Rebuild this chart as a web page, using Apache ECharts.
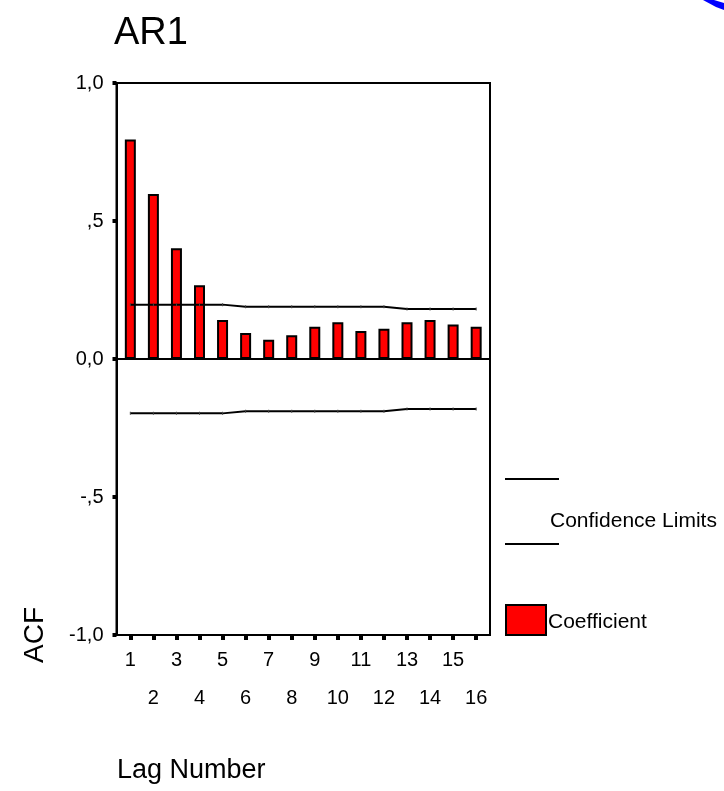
<!DOCTYPE html>
<html>
<head>
<meta charset="utf-8">
<title>AR1 ACF</title>
<script src="https://cdn.jsdelivr.net/npm/echarts@6/dist/echarts.min.js"></script>
<style>
  html, body { margin: 0; padding: 0; background: #fff; }
  #chart { width: 724px; height: 791px; }
</style>
</head>
<body>
<div id="chart"></div>
<script>
// Autocorrelation of the AR1 series, lags 1..16
const lags = [1, 2, 3, 4, 5, 6, 7, 8, 9, 10, 11, 12, 13, 14, 15, 16];
const coefficient = [0.795, 0.598, 0.401, 0.267, 0.141, 0.094, 0.070, 0.086,
                     0.117, 0.133, 0.101, 0.110, 0.133, 0.141, 0.125, 0.117];
const upperLimit = [0.197, 0.197, 0.197, 0.197, 0.197, 0.189, 0.189, 0.189,
                    0.189, 0.189, 0.189, 0.189, 0.181, 0.181, 0.181, 0.181];
const lowerLimit = [-0.197, -0.197, -0.197, -0.197, -0.197, -0.189, -0.189, -0.189,
                    -0.189, -0.189, -0.189, -0.189, -0.181, -0.181, -0.181, -0.181];
const yTickLabels = { '1': '1,0', '0.5': ',5', '0': '0,0', '-0.5': '-,5', '-1': '-1,0' };

const FONT = '"Liberation Sans", Arial, sans-serif';

const chart = echarts.init(document.getElementById('chart'), null, { renderer: 'canvas' });

const pairs = (ys) => lags.map((x, i) => [x, ys[i]]);

chart.setOption({
  animation: false,
  backgroundColor: '#fff',
  grid: {
    left: 116.5, right: 234, top: 83, bottom: 156,
    show: true, borderColor: '#000', borderWidth: 2
  },
  xAxis: {
    type: 'value',
    min: 0.4, max: 16.6,
    axisLine: { show: true, onZero: false, lineStyle: { color: '#000', width: 2 } },
    axisTick: { show: true, customValues: lags, length: 5, lineStyle: { color: '#000', width: 4 } },
    axisLabel: {
      customValues: lags,
      margin: 6,
      color: '#000', fontFamily: FONT, fontSize: 20, lineHeight: 38,
      formatter: (v) => (v % 2 === 1 ? String(v) : '\n' + v)
    },
    splitLine: { show: false }
  },
  yAxis: {
    type: 'value',
    min: -1, max: 1, interval: 0.5,
    axisLine: { show: true, lineStyle: { color: '#000', width: 2 } },
    axisTick: { show: true, length: 4, lineStyle: { color: '#000', width: 4 } },
    axisLabel: {
      margin: 13, color: '#000', fontFamily: FONT, fontSize: 20,
      formatter: (v) => yTickLabels[String(v)] || ''
    },
    splitLine: { show: false }
  },
  series: [
    {
      name: 'Coefficient',
      type: 'bar',
      data: pairs(coefficient),
      barWidth: 11,
      itemStyle: { color: '#ff0000', borderColor: '#000', borderWidth: 2 },
      markLine: {
        silent: true,
        symbol: 'none',
        label: { show: false },
        lineStyle: { color: '#000', width: 2, type: 'solid' },
        data: [{ yAxis: 0 }]
      },
      z: 2
    },
    {
      name: 'Upper Confidence Limit',
      type: 'line',
      data: pairs(upperLimit),
      symbol: 'rect', symbolSize: [1, 3],
      itemStyle: { color: '#444' },
      lineStyle: { color: '#000', width: 2 },
      z: 3
    },
    {
      name: 'Lower Confidence Limit',
      type: 'line',
      data: pairs(lowerLimit),
      symbol: 'rect', symbolSize: [1, 3],
      itemStyle: { color: '#444' },
      lineStyle: { color: '#000', width: 2 },
      z: 3
    }
  ],
  graphic: [
    { type: 'text', left: 114, top: 15,
      style: { text: 'AR1', fontFamily: FONT, fontSize: 38, fill: '#000' } },
    { type: 'text', x: 21, y: 663, rotation: Math.PI / 2,
      style: { text: 'ACF', fontFamily: FONT, fontSize: 28, fill: '#000',
               align: 'left', verticalAlign: 'top' } },
    { type: 'text', left: 117, top: 757,
      style: { text: 'Lag Number', fontFamily: FONT, fontSize: 27, fill: '#000' } },
    // legend
    { type: 'line', shape: { x1: 505, y1: 479, x2: 559, y2: 479 },
      style: { stroke: '#000', lineWidth: 2 } },
    { type: 'line', shape: { x1: 505, y1: 544, x2: 559, y2: 544 },
      style: { stroke: '#000', lineWidth: 2 } },
    { type: 'text', x: 550, y: 521,
      style: { text: 'Confidence Limits', fontFamily: FONT, fontSize: 21, fill: '#000',
               verticalAlign: 'middle' } },
    { type: 'rect', shape: { x: 506, y: 605, width: 40, height: 30 },
      style: { fill: '#ff0000', stroke: '#000', lineWidth: 2 } },
    { type: 'text', x: 548, y: 622,
      style: { text: 'Coefficient', fontFamily: FONT, fontSize: 21, fill: '#000',
               verticalAlign: 'middle' } },
    // corner ornament
    { type: 'polygon',
      shape: { points: [[703, 0], [714, 0], [724, 3], [724, 10], [716, 7]] },
      style: { fill: '#0000ff' } }
  ]
});
</script>
</body>
</html>
